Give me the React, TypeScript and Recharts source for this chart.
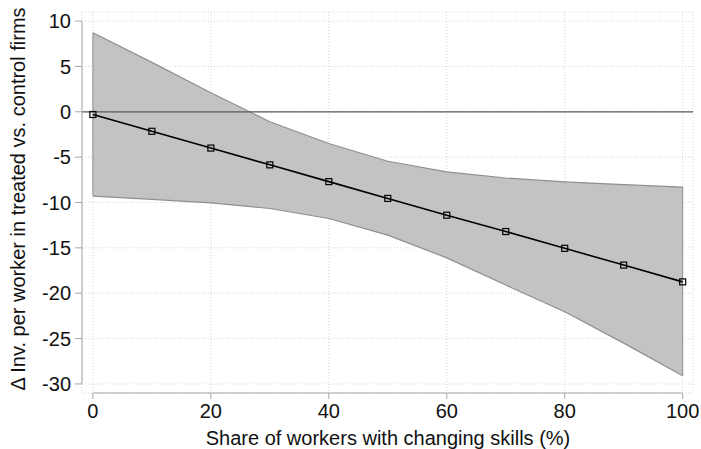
import React from "react"
import {
  Area,
  CartesianGrid,
  ComposedChart,
  Line,
  ReferenceLine,
  XAxis,
  YAxis,
} from "recharts"

// share of workers with changing skills (%)
const shares = [0, 10, 20, 30, 40, 50, 60, 70, 80, 90, 100]
// point estimate and 95% CI bounds
const estimate = [-0.3, -2.15, -4.0, -5.85, -7.7, -9.55, -11.4, -13.2, -15.05, -16.9, -18.75]
const upper = [8.72, 5.45, 2.1, -1.1, -3.5, -5.45, -6.63, -7.3, -7.73, -8.02, -8.31]
const lower = [-9.3, -9.65, -10.04, -10.66, -11.76, -13.6, -16.1, -19.1, -22.05, -25.5, -29.1]

const xTicks = [0, 20, 40, 60, 80, 100]
const yTicks = [-30, -25, -20, -15, -10, -5, 0, 5, 10]

const data = shares.map((s, i) => ({
  share: s,
  est: estimate[i],
  ci: [lower[i], upper[i]],
}))

const font = "'Liberation Sans', Arial, sans-serif"
const axisGray = "#a6a6a6"

const Square = (props: any) => {
  const { cx, cy } = props
  if (cx == null || cy == null) return null
  return <rect x={cx - 3} y={cy - 3} width={6} height={6} fill="none" stroke="#000" strokeWidth={1.2} />
}

export default function App() {
  return (
    <div style={{ position: "absolute", left: 0, top: 0, fontFamily: font }}>
      <ComposedChart
        width={701}
        height={449}
        data={data}
        margin={{ top: 12, right: 8, left: 12, bottom: 0 }}
      >
        <CartesianGrid stroke="#d4d4d4" strokeDasharray="1 2" />
        <XAxis
          dataKey="share"
          type="number"
          domain={[-1.85, 101.75]}
          ticks={xTicks}
          allowDataOverflow
          height={56}
          axisLine={false}
          tickLine={{ stroke: axisGray }}
          tickSize={6}
          tickMargin={5}
          tick={{ fill: "#111", fontSize: 20, fontFamily: font }}
          label={{
            content: () => (
              <text x={388} y={445} textAnchor="middle" fontSize={20} fontFamily={font} fill="#111">
                Share of workers with changing skills (%)
              </text>
            ),
          }}
        />
        <YAxis
          type="number"
          domain={[-31, 11]}
          ticks={yTicks}
          allowDataOverflow
          width={70}
          axisLine={false}
          tickLine={{ stroke: axisGray }}
          tickSize={7}
          tickMargin={4}
          tick={{ fill: "#111", fontSize: 20, fontFamily: font }}
          label={{
            content: () => (
              <text
                transform="translate(25,199) rotate(-90)"
                x={0}
                y={0}
                textAnchor="middle"
                fontSize={20}
                fontFamily={font}
                fill="#111"
              >
                Δ Inv. per worker in treated vs. control firms
              </text>
            ),
          }}
        />
        <Area
          dataKey="ci"
          type="linear"
          stroke="#8f8f8f"
          strokeWidth={1.2}
          fill="#c3c3c3"
          fillOpacity={1}
          isAnimationActive={false}
          dot={false}
          activeDot={false}
        />
        <ReferenceLine
          segment={[{ x: shares[0], y: lower[0] }, { x: shares[0], y: upper[0] }]}
          stroke="#8f8f8f"
          ifOverflow="visible"
        />
        <ReferenceLine
          segment={[
            { x: shares[shares.length - 1], y: lower[lower.length - 1] },
            { x: shares[shares.length - 1], y: upper[upper.length - 1] },
          ]}
          stroke="#8f8f8f"
          ifOverflow="visible"
        />
        <ReferenceLine y={0} stroke="#5a5a5a" strokeWidth={1.2} />
        {/* axis lines only span the tick range, like Stata */}
        <ReferenceLine
          segment={[{ x: -1.85, y: yTicks[0] }, { x: -1.85, y: yTicks[yTicks.length - 1] }]}
          stroke={axisGray}
          ifOverflow="visible"
        />
        <ReferenceLine
          segment={[{ x: xTicks[0], y: -31 }, { x: xTicks[xTicks.length - 1], y: -31 }]}
          stroke={axisGray}
          ifOverflow="visible"
        />
        <Line
          dataKey="est"
          type="linear"
          stroke="#000"
          strokeWidth={1.6}
          dot={<Square />}
          activeDot={false}
          isAnimationActive={false}
        />
      </ComposedChart>
    </div>
  )
}
